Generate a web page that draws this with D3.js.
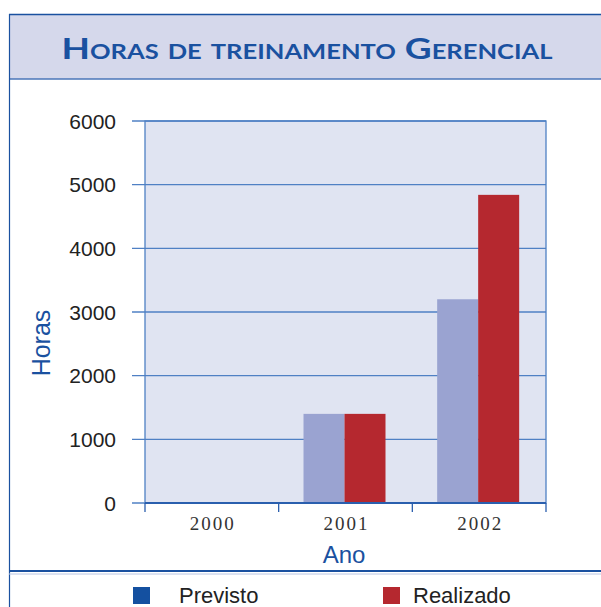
<!DOCTYPE html>
<html>
<head>
<meta charset="utf-8">
<script src="https://cdn.jsdelivr.net/npm/d3@7"></script>
<style>
  body { margin: 0; background: #fff; }
  svg { display: block; }
</style>
</head>
<body>
<svg id="chart" width="601" height="607"></svg>
<script>
const YEARS = ["2000", "2001", "2002"];
const SERIES = ["Previsto", "Realizado"];
const PREVISTO = [0, 1400, 3200];
const REALIZADO = [0, 1400, 4840];
const Y_TICKS = [0, 1000, 2000, 3000, 4000, 5000, 6000];

const BLUE = "#1a51a0";
const GRID = "#4f80c4";
const BAR_COLORS = ["#9aa3d1", "#b5282f"];
const LEGEND_COLORS = ["#1450a0", "#b5282f"];

const svg = d3.select("#chart");
const margin = { top: 121, left: 145, right: 55, bottom: 104 };
const width = 601 - margin.left - margin.right;
const height = 607 - margin.top - margin.bottom;

// FRAME
svg.append("rect").attr("x", 9).attr("y", 14).attr("width", 600).attr("height", 65)
  .attr("fill", "#d5d8eb");
svg.append("line").attr("x1", 9).attr("x2", 601).attr("y1", 14.5).attr("y2", 14.5)
  .attr("stroke", BLUE).attr("stroke-width", 1.5);
svg.append("line").attr("x1", 9).attr("x2", 601).attr("y1", 79).attr("y2", 79)
  .attr("stroke", "#4a76b8").attr("stroke-width", 1.5);
svg.append("line").attr("x1", 9.5).attr("x2", 9.5).attr("y1", 14).attr("y2", 607)
  .attr("stroke", BLUE).attr("stroke-width", 1.2);
svg.append("line").attr("x1", 9).attr("x2", 601).attr("y1", 571).attr("y2", 571)
  .attr("stroke", BLUE).attr("stroke-width", 2);
svg.append("line").attr("x1", 9).attr("x2", 601).attr("y1", 574).attr("y2", 574)
  .attr("stroke", "#b9c6e4").attr("stroke-width", 1);

svg.append("text")
  .attr("x", 307).attr("y", 59)
  .attr("text-anchor", "middle")
  .attr("fill", BLUE)
  .style("font-family", "Lato, 'Open Sans', sans-serif")
  .style("font-weight", "bold")
  .style("font-size", "29px")
  .style("font-variant", "small-caps")
  .attr("textLength", 491)
  .attr("lengthAdjust", "spacingAndGlyphs")
  .text("Horas de treinamento Gerencial");

// SCALES
const x0 = d3.scaleBand().domain(YEARS).range([0, width]);
const x1 = d3.scaleBand().domain(SERIES).range([0, 82]);
const y = d3.scaleLinear().domain([0, 6000]).range([height, 0]);

const g = svg.append("g").attr("transform", `translate(${margin.left},${margin.top})`);

g.append("rect").attr("width", width).attr("height", height).attr("fill", "#e0e4f2");

g.selectAll(".grid").data(Y_TICKS).join("line")
  .attr("x1", -13).attr("x2", width)
  .attr("y1", d => y(d)).attr("y2", d => y(d))
  .attr("stroke", GRID).attr("stroke-width", 1.3);

const rows = YEARS.map((yr, i) => ({ year: yr, values: [PREVISTO[i], REALIZADO[i]] }));
const groups = g.selectAll(".grp").data(rows).join("g")
  .attr("transform", d => `translate(${x0(d.year) + (x0.bandwidth() - 82) / 2 - 1},0)`);
groups.selectAll("rect").data(d => d.values.map((v, i) => ({ s: SERIES[i], v, i })))
  .join("rect")
  .attr("x", d => x1(d.s))
  .attr("width", x1.bandwidth())
  .attr("y", d => y(d.v))
  .attr("height", d => height - y(d.v))
  .attr("fill", d => BAR_COLORS[d.i]);

// plot border
g.append("rect").attr("width", width).attr("height", height)
  .attr("fill", "none").attr("stroke", GRID).attr("stroke-width", 1.3);
g.append("line").attr("x1", 0).attr("x2", width).attr("y1", height).attr("y2", height)
  .attr("stroke", "#2a5fae").attr("stroke-width", 2);

// y axis labels
g.selectAll(".ylab").data(Y_TICKS).join("text")
  .attr("x", -29).attr("y", d => y(d) + 7.5)
  .attr("text-anchor", "end")
  .attr("fill", "#222")
  .style("font-family", "Arial, 'Liberation Sans', sans-serif")
  .style("font-size", "21px")
  .text(d => d);

// x ticks
const xTicks = YEARS.map(d => x0(d)).concat([width]);
g.selectAll(".xt").data(xTicks).join("line")
  .attr("x1", d => d).attr("x2", d => d)
  .attr("y1", height).attr("y2", height + 9)
  .attr("stroke", "#2a5fae").attr("stroke-width", 1.3);

g.selectAll(".xlab").data(YEARS).join("text")
  .attr("x", d => x0(d) + x0.bandwidth() / 2 + 1)
  .attr("y", height + 27)
  .attr("text-anchor", "middle")
  .attr("fill", "#333")
  .style("font-family", "'Liberation Serif', 'DejaVu Serif', serif")
  .style("font-size", "19px")
  .style("letter-spacing", "2px")
  .text(d => d);

// axis titles
svg.append("text")
  .attr("transform", "translate(50,343) rotate(-90)")
  .attr("text-anchor", "middle")
  .attr("fill", BLUE)
  .style("font-family", "Arial, 'Liberation Sans', sans-serif")
  .style("font-size", "25px")
  .text("Horas");

svg.append("text")
  .attr("x", 344).attr("y", 563)
  .attr("text-anchor", "middle")
  .attr("fill", BLUE)
  .style("font-family", "Arial, 'Liberation Sans', sans-serif")
  .style("font-size", "24px")
  .text("Ano");

// LEGEND
const legX = [133, 383];
const leg = svg.selectAll(".leg").data(SERIES).join("g")
  .attr("transform", (d, i) => `translate(${legX[i]},587)`);
leg.append("rect").attr("width", 17).attr("height", 17)
  .attr("fill", (d, i) => LEGEND_COLORS[i]);
leg.append("text")
  .attr("x", (d, i) => i === 0 ? 46 : 30)
  .attr("y", 16)
  .attr("fill", "#222")
  .style("font-family", "Arial, 'Liberation Sans', sans-serif")
  .style("font-size", "22px")
  .text(d => d);
</script>
</body>
</html>
